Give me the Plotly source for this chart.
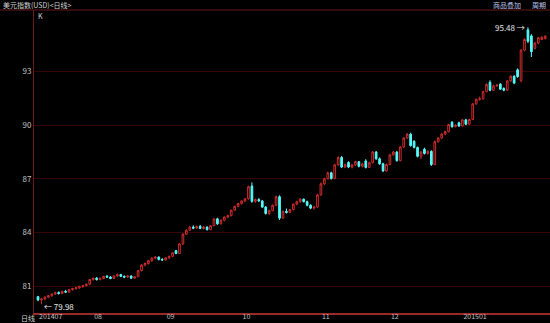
import plotly.graph_objects as go

# ---- data ----
opens = [80.40, 80.22, 80.28, 80.38, 80.46, 80.55, 80.64, 80.58, 80.70, 80.66,
         80.80, 80.86, 80.90, 80.98, 81.02, 81.10, 81.36, 81.44, 81.36, 81.42,
         81.54, 81.50, 81.42, 81.56, 81.64, 81.54, 81.50, 81.56, 81.44, 81.52,
         81.86, 82.18, 82.26, 82.42, 82.56, 82.62, 82.48, 82.46, 82.58, 82.66,
         82.98, 82.82, 83.36, 83.90, 84.12, 84.30, 84.24, 84.34, 84.22, 84.30,
         84.16, 84.38, 84.76, 84.48, 84.68, 84.86, 84.94, 85.24, 85.46, 85.62,
         85.76, 85.88, 86.60, 85.74, 85.84, 85.76, 85.42, 85.06, 85.22, 85.52,
         86.00, 84.80, 85.18, 85.12, 85.28, 85.58, 85.72, 85.86, 85.72, 85.52,
         85.36, 85.42, 86.10, 86.72, 87.00, 87.34, 87.02, 87.78, 88.20, 87.66,
         87.92, 87.66, 87.78, 87.96, 87.70, 88.00, 87.64, 87.90, 88.50, 88.12,
         87.84, 87.44, 87.80, 88.34, 88.50, 88.02, 88.78, 89.28, 89.50, 89.10,
         88.76, 88.26, 88.66, 88.42, 88.54, 87.80, 89.08, 89.28, 89.50, 89.64,
         90.16, 89.92, 90.14, 89.96, 90.30, 90.06, 90.32, 91.20, 91.44, 91.48,
         91.88, 92.40, 91.96, 92.20, 92.30, 92.06, 91.96, 92.48, 92.74, 93.10,
         92.50, 94.20, 95.34, 95.00, 94.30, 94.60, 94.80, 94.86]
highs = [80.45, 80.30, 80.42, 80.50, 80.58, 80.68, 80.70, 80.74, 80.78, 80.84,
         80.90, 80.95, 81.02, 81.06, 81.14, 81.40, 81.48, 81.50, 81.48, 81.58,
         81.62, 81.56, 81.60, 81.70, 81.68, 81.60, 81.62, 81.60, 81.56, 81.90,
         82.22, 82.32, 82.46, 82.60, 82.68, 82.66, 82.56, 82.62, 82.70, 82.90,
         83.02, 83.40, 83.95, 84.18, 84.36, 84.40, 84.38, 84.42, 84.36, 84.34,
         84.42, 84.78, 84.82, 84.72, 84.90, 85.00, 85.28, 85.50, 85.66, 85.80,
         85.94, 86.62, 86.80, 85.90, 85.92, 85.82, 85.48, 85.28, 85.56, 86.06,
         86.08, 85.22, 85.34, 85.32, 85.62, 85.78, 85.92, 85.90, 85.78, 85.58,
         85.48, 86.16, 86.80, 87.06, 87.40, 87.40, 87.84, 88.26, 88.28, 87.86,
         87.98, 87.84, 88.02, 88.00, 87.90, 88.10, 87.96, 88.56, 88.56, 88.20,
         87.90, 87.86, 88.40, 88.56, 88.56, 88.84, 89.34, 89.56, 89.58, 89.16,
         88.80, 88.56, 88.74, 88.60, 88.60, 89.14, 89.34, 89.56, 89.70, 90.08,
         90.24, 90.06, 90.20, 90.34, 90.36, 90.36, 91.24, 91.50, 91.60, 91.94,
         92.34, 92.52, 92.26, 92.32, 92.36, 92.12, 92.52, 92.80, 92.80, 93.18,
         94.26, 94.86, 95.48, 95.10, 94.66, 94.94, 94.98, 95.04]
lows = [80.15, 79.98, 80.20, 80.32, 80.40, 80.50, 80.52, 80.55, 80.62, 80.62,
        80.74, 80.80, 80.84, 80.90, 80.98, 81.05, 81.30, 81.30, 81.32, 81.38,
        81.46, 81.38, 81.40, 81.50, 81.50, 81.44, 81.46, 81.40, 81.40, 81.50,
        81.82, 82.10, 82.20, 82.36, 82.50, 82.44, 82.40, 82.42, 82.52, 82.62,
        82.78, 82.80, 83.30, 83.86, 84.08, 84.18, 84.20, 84.18, 84.16, 84.10,
        84.12, 84.34, 84.42, 84.44, 84.62, 84.80, 84.90, 85.20, 85.40, 85.56,
        85.70, 85.84, 85.66, 85.66, 85.70, 85.36, 85.00, 84.98, 85.18, 85.48,
        84.70, 84.76, 85.06, 85.08, 85.24, 85.52, 85.66, 85.68, 85.46, 85.30,
        85.28, 85.38, 86.06, 86.66, 86.96, 86.96, 86.98, 87.74, 87.60, 87.60,
        87.60, 87.58, 87.72, 87.64, 87.64, 87.58, 87.60, 87.86, 88.06, 87.78,
        87.38, 87.40, 87.76, 88.30, 87.96, 87.98, 88.74, 89.24, 88.80, 88.70,
        88.20, 88.10, 88.36, 88.36, 87.72, 87.76, 89.02, 89.24, 89.44, 89.60,
        89.86, 89.88, 89.90, 89.92, 90.00, 90.02, 90.28, 91.14, 91.38, 91.44,
        91.84, 91.90, 91.92, 92.14, 91.98, 91.90, 91.92, 92.44, 92.30, 92.66,
        92.40, 94.14, 94.60, 93.82, 94.24, 94.54, 94.76, 94.80]
closes = [80.22, 80.28, 80.38, 80.46, 80.55, 80.64, 80.58, 80.70, 80.66, 80.80,
          80.86, 80.90, 80.98, 81.02, 81.10, 81.36, 81.44, 81.36, 81.42, 81.54,
          81.50, 81.42, 81.56, 81.64, 81.54, 81.50, 81.56, 81.44, 81.52, 81.86,
          82.18, 82.26, 82.42, 82.56, 82.62, 82.48, 82.46, 82.58, 82.66, 82.86,
          82.82, 83.36, 83.90, 84.12, 84.30, 84.24, 84.34, 84.22, 84.30, 84.16,
          84.38, 84.76, 84.48, 84.68, 84.86, 84.94, 85.24, 85.46, 85.62, 85.76,
          85.88, 86.56, 85.74, 85.84, 85.76, 85.42, 85.06, 85.22, 85.52, 86.00,
          84.80, 85.18, 85.12, 85.28, 85.58, 85.72, 85.86, 85.72, 85.52, 85.36,
          85.42, 86.10, 86.72, 87.00, 87.34, 87.02, 87.78, 88.20, 87.66, 87.80,
          87.66, 87.78, 87.96, 87.70, 87.84, 87.64, 87.90, 88.50, 88.12, 87.84,
          87.44, 87.80, 88.34, 88.50, 88.02, 88.78, 89.28, 89.50, 88.86, 88.76,
          88.26, 88.50, 88.42, 88.54, 87.80, 89.08, 89.28, 89.50, 89.64, 90.04,
          89.92, 90.00, 89.96, 90.30, 90.06, 90.32, 91.20, 91.44, 91.48, 91.88,
          92.28, 91.96, 92.20, 92.24, 92.02, 91.96, 92.48, 92.74, 92.36, 92.72,
          94.20, 94.80, 94.70, 94.12, 94.60, 94.90, 94.92, 94.98]

month_tick_index = [0, 16, 37, 59, 82, 102, 123]
month_tick_labels = ["201407", "08", "09", "10", "11", "12", "201501"]
y_ticks = [81, 84, 87, 90, 93]
high_label = "95.48"
low_label = "79.98"

idx = list(range(len(closes)))

UP = "#d02c2c"
DOWN = "#54fcfc"
GRID = "#340606"
AXIS = "#6a1818"
TXT = "#c0c0c0"
FONT = "Noto Sans CJK SC, DejaVu Sans, sans-serif"

fig = go.Figure()
fig.add_trace(go.Candlestick(
    x=idx, open=opens, high=highs, low=lows, close=closes,
    increasing=dict(line=dict(color=UP, width=1), fillcolor="#000000"),
    decreasing=dict(line=dict(color=DOWN, width=1), fillcolor=DOWN),
    whiskerwidth=0, hoverinfo="skip", showlegend=False,
))

hi_i = highs.index(max(highs))
lo_i = lows.index(min(lows))

fig.add_annotation(x=hi_i, y=max(highs), xref="x", yref="y",
                   text=high_label + " →", showarrow=False,
                   xanchor="right", yanchor="middle", xshift=-1, yshift=0,
                   font=dict(color="#e8e8e8", size=8, family=FONT))
fig.add_annotation(x=lo_i, y=min(lows), xref="x", yref="y",
                   text="← " + low_label, showarrow=False,
                   xanchor="left", yanchor="middle", xshift=1, yshift=-2,
                   font=dict(color="#e8e8e8", size=8, family=FONT))

# header texts
fig.add_annotation(x=-0.064, y=1.018, xref="paper", yref="paper",
                   text="美元指数(USD)<日线>", showarrow=False,
                   xanchor="left", yanchor="middle",
                   font=dict(color="#d0d0d0", size=7, family=FONT))
fig.add_annotation(x=0.886, y=1.018, xref="paper", yref="paper",
                   text="商品叠加", showarrow=False,
                   xanchor="left", yanchor="middle",
                   font=dict(color="#b8c4e8", size=7, family=FONT))
fig.add_annotation(x=0.962, y=1.018, xref="paper", yref="paper",
                   text="周期", showarrow=False,
                   xanchor="left", yanchor="middle",
                   font=dict(color="#b8c4e8", size=7, family=FONT))
fig.add_annotation(x=0.004, y=0.980, xref="paper", yref="paper",
                   text="K", showarrow=False,
                   xanchor="left", yanchor="middle",
                   font=dict(color="#d0d0d0", size=7, family=FONT))
fig.add_annotation(x=-0.029, y=-0.016, xref="paper", yref="paper",
                   text="日线", showarrow=False,
                   xanchor="left", yanchor="middle",
                   font=dict(color="#d0d0d0", size=7, family=FONT))

# top border under header
fig.add_shape(type="line", xref="paper", yref="paper", x0=-0.07, x1=1.0,
              y0=1.0, y1=1.0, line=dict(color=AXIS, width=1))

fig.update_layout(
    width=550, height=323,
    margin=dict(l=34, r=0, t=10, b=10),
    paper_bgcolor="#000000", plot_bgcolor="#000000",
    font=dict(family=FONT, color=TXT, size=7),
    xaxis=dict(
        range=[-1.16, 148.39], rangeslider=dict(visible=False),
        tickmode="array", tickvals=month_tick_index, ticktext=month_tick_labels,
        ticklabelposition="outside right", ticklabelstandoff=-4,
        showgrid=False, zeroline=False,
        showline=True, linecolor="#9a2a2a", linewidth=2,
        ticks="", tickfont=dict(size=7, color=TXT), automargin=False,
    ),
    yaxis=dict(
        range=[79.49, 96.45], tickmode="array", tickvals=y_ticks,
        showgrid=True, gridcolor=GRID, gridwidth=1, zeroline=False,
        showline=True, linecolor=AXIS, linewidth=1,
        ticks="", tickfont=dict(size=8, color=TXT), automargin=False,
    ),
)

fig.write_html("out.html")
